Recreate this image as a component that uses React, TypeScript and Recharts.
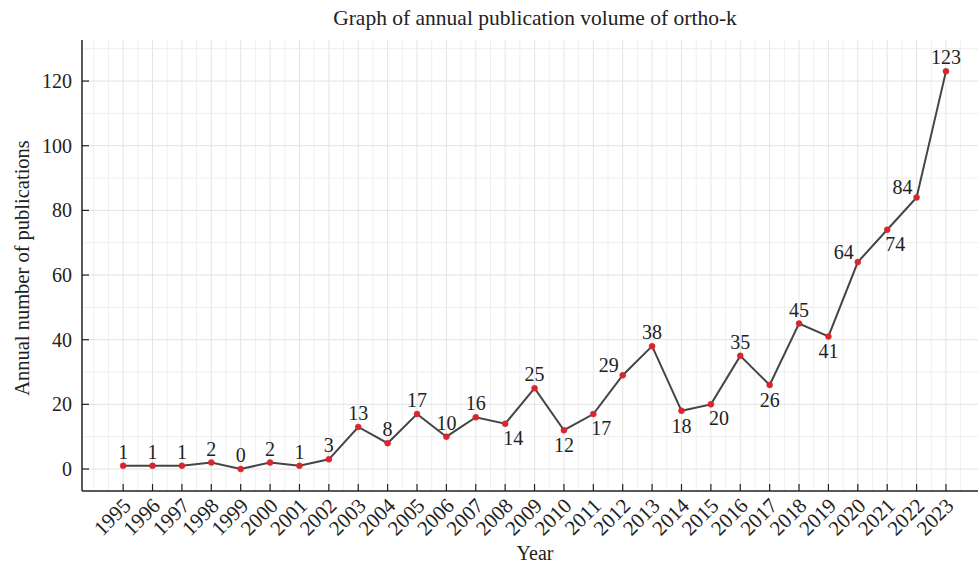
import React from "react";
import { LineChart, Line, XAxis, YAxis, ReferenceLine, LabelList } from "recharts";

const years = [
  1995, 1996, 1997, 1998, 1999, 2000, 2001, 2002, 2003, 2004, 2005, 2006, 2007, 2008, 2009,
  2010, 2011, 2012, 2013, 2014, 2015, 2016, 2017, 2018, 2019, 2020, 2021, 2022, 2023,
];
const publications = [
  1, 1, 1, 2, 0, 2, 1, 3, 13, 8, 17, 10, 16, 14, 25, 12, 17, 29, 38, 18, 20, 35, 26, 45, 41, 64, 74, 84, 123,
];
// where each value label sits relative to its point
const labelSide = [
  "top", "top", "top", "top", "top", "top", "top", "top", "top", "top", "top", "top", "top",
  "bottomRight", "top", "bottom", "bottomRight", "topLeft", "top", "bottom", "bottomRight",
  "top", "bottom", "top", "bottom", "topLeft", "bottomRight", "topLeft", "top",
];
const yTicks = [0, 20, 40, 60, 80, 100, 120];
const yMinor = [10, 30, 50, 70, 90, 110, 130];
const xMinor = [1993.5, 1994, 1994.5, ...years.map((y) => y + 0.5)];

const data = years.map((year, i) => ({ year, count: publications[i] }));

const FONT = "Liberation Serif, Times New Roman, serif";
const TEXT = "#222";

const offsets: Record<string, [number, number]> = {
  top: [0, -14],
  bottom: [0, 15],
  topLeft: [-14, -10],
  bottomRight: [8, 14],
};

function ValueLabel(props: any) {
  const { x, y, value, index } = props;
  const [dx, dy] = offsets[labelSide[index]] || offsets.top;
  return (
    <text x={x + dx} y={y + dy} textAnchor="middle" dominantBaseline="central" fontSize={20} fontFamily={FONT} fill={TEXT}>
      {value}
    </text>
  );
}

function XTick({ x, y, payload }: any) {
  return (
    <g>
      <line x1={x} y1={y} x2={x} y2={y - 7} stroke="#222" strokeWidth={1.2} />
      <text
        x={x + 9}
        y={y + 16}
        textAnchor="end"
        fontSize={21}
        fontFamily={FONT}
        fill={TEXT}
        transform={`rotate(-45 ${x + 9} ${y + 16})`}
      >
        {payload.value}
      </text>
    </g>
  );
}

function YTick({ x, y, payload }: any) {
  return (
    <g>
      <line x1={x} y1={y} x2={x + 7} y2={y} stroke="#222" strokeWidth={1.2} />
      <text x={x - 10} y={y} textAnchor="end" dominantBaseline="central" fontSize={20} fontFamily={FONT} fill={TEXT}>
        {payload.value}
      </text>
    </g>
  );
}

export default function App() {
  return (
    <div style={{ position: "absolute", left: 0, top: 0, width: 978, height: 567, background: "#fff" }}>
      <LineChart width={978} height={567} data={data} margin={{ top: 40, right: 0, bottom: 0, left: 0 }}>
        {xMinor.map((v) => (
          <ReferenceLine key={"xm" + v} x={v} stroke="#efefef" strokeWidth={1} />
        ))}
        {years.map((v) => (
          <ReferenceLine key={"xM" + v} x={v} stroke="#e4e4e4" strokeWidth={1} />
        ))}
        {yMinor.map((v) => (
          <ReferenceLine key={"ym" + v} y={v} stroke="#eeeeee" strokeWidth={1} />
        ))}
        {yTicks.map((v) => (
          <ReferenceLine key={"yM" + v} y={v} stroke="#e2e2e2" strokeWidth={1} />
        ))}
        <XAxis
          dataKey="year"
          type="number"
          domain={[1993.6, 2024.09]}
          ticks={years}
          interval={0}
          height={76}
          tickSize={0}
          tickMargin={0}
          tickLine={false}
          tick={<XTick />}
          axisLine={{ stroke: "#222", strokeWidth: 1.5 }}
          allowDataOverflow
        />
        <XAxis
          xAxisId="top"
          orientation="top"
          dataKey="year"
          type="number"
          domain={[1993.6, 2024.09]}
          height={0}
          tick={false}
          tickLine={false}
          axisLine={{ stroke: "#222", strokeWidth: 1.5 }}
          allowDataOverflow
        />
        <YAxis
          type="number"
          domain={[-6.8, 132.7]}
          ticks={yTicks}
          width={82}
          tickSize={0}
          tickMargin={0}
          tickLine={false}
          tick={<YTick />}
          axisLine={{ stroke: "#222", strokeWidth: 1.5 }}
          allowDataOverflow
        />
        <Line
          dataKey="count"
          stroke="#454545"
          strokeWidth={2}
          dot={{ r: 3, fill: "#d9262e", stroke: "#d9262e", strokeWidth: 0.5 }}
          isAnimationActive={false}
        >
          <LabelList dataKey="count" content={<ValueLabel />} />
        </Line>
      </LineChart>
      <svg width={978} height={567} style={{ position: "absolute", left: 0, top: 0, pointerEvents: "none" }}>
        <text x={535} y={25} textAnchor="middle" fontSize={21.5} fontFamily={FONT} fill={TEXT}>
          Graph of annual publication volume of ortho-k
        </text>
        <text x={535} y={560} textAnchor="middle" fontSize={20} fontFamily={FONT} fill={TEXT}>
          Year
        </text>
        <text
          x={29}
          y={268}
          textAnchor="middle"
          fontSize={20.5}
          fontFamily={FONT}
          fill={TEXT}
          transform="rotate(-90 29 268)"
        >
          Annual number of publications
        </text>
      </svg>
    </div>
  );
}
